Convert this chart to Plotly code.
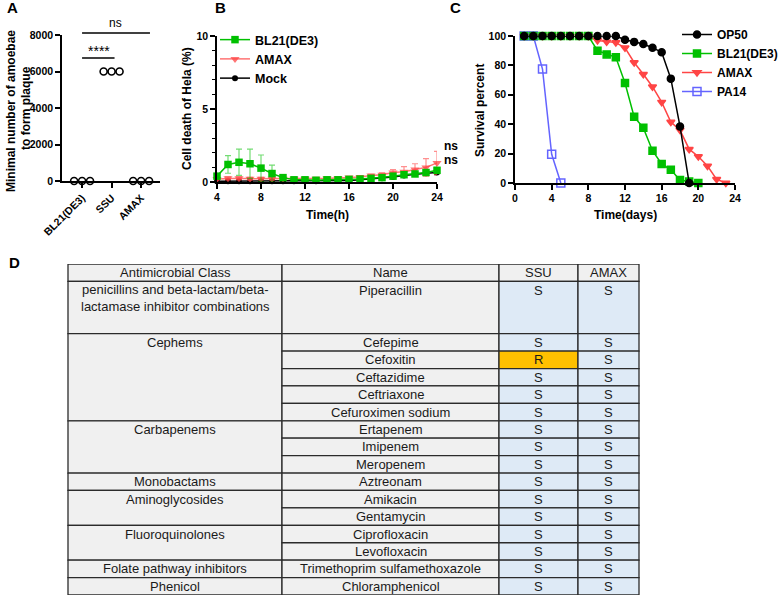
import plotly.graph_objects as go

W, H = 783, 596
FONT = "Liberation Sans, Arial, Helvetica, sans-serif"


def px_x(p):
    return p / W


def px_y(p):
    return 1 - p / H


# ---------------- data ----------------
# Panel A
a_groups = ["BL21(DE3)", "SSU", "AMAX"]
a_bl21 = [0, 0, 0]
a_ssu = [6000, 6000, 6000]
a_amax = [0, 0, 0]
a_yticks = [0, 2000, 4000, 6000, 8000]

# Panel B (hours 4..24)
b_hours = list(range(4, 25))
b_bl21 = [0.40, 1.20, 1.35, 1.25, 0.95, 0.58, 0.30, 0.15, 0.15, 0.12, 0.15,
          0.15, 0.18, 0.20, 0.25, 0.30, 0.40, 0.50, 0.55, 0.65, 0.80]
b_bl21_err = [0.10, 0.60, 0.90, 1.00, 0.90, 0.58, 0.15, 0.06, 0.06, 0.06, 0.06,
              0.06, 0.06, 0.08, 0.08, 0.08, 0.10, 0.12, 0.12, 0.15, 0.20]
b_amax = [0.20, 0.25, 0.25, 0.22, 0.22, 0.22, 0.22, 0.22, 0.22, 0.22, 0.25,
          0.28, 0.30, 0.35, 0.45, 0.50, 0.65, 0.70, 0.85, 1.00, 1.30]
b_amax_err = [0.05, 0.10, 0.10, 0.10, 0.10, 0.10, 0.05, 0.05, 0.05, 0.05, 0.05,
              0.05, 0.06, 0.08, 0.08, 0.12, 0.20, 0.35, 0.40, 0.60, 0.80]
b_mock = [0.05, 0.05, 0.05, 0.05, 0.05, 0.05, 0.05, 0.05, 0.05, 0.05, 0.06,
          0.08, 0.10, 0.15, 0.20, 0.25, 0.35, 0.45, 0.55, 0.60, 0.65]
b_mock_err = [0.03, 0.03, 0.03, 0.03, 0.03, 0.03, 0.03, 0.03, 0.03, 0.03, 0.03,
              0.03, 0.04, 0.05, 0.05, 0.06, 0.08, 0.10, 0.12, 0.15, 0.15]

# Panel C (days)
c_op50_days = list(range(1, 20))
c_op50 = [100] * 11 + [97.5, 96, 94.5, 92, 89, 71, 38.5, 0]
c_bl21_days = list(range(1, 21))
c_bl21 = [100] * 8 + [90, 87.5, 85.5, 68, 45, 37.5, 22, 13, 9, 2, 1, 0]
c_amax_days = list(range(1, 24))
c_amax = [100] * 8 + [97, 96, 95.5, 92, 82, 74, 65.5, 55, 41.5, 36, 23, 18, 11.5, 2.5, 0]
c_pa14_days = list(range(1, 6))
c_pa14 = [100, 100, 77.5, 19.5, 0]

# Panel D (table)
t_header = ["Antimicrobial Class", "Name", "SSU", "AMAX"]
t_classes = ["penicillins and beta-lactam/beta-<br>lactamase inhibitor combinations",
             "Cephems", "Carbapenems", "Monobactams", "Aminoglycosides",
             "Fluoroquinolones", "Folate pathway inhibitors", "Phenicol"]
t_class_counts = [1, 5, 3, 1, 2, 2, 1, 1]
t_drugs = ["Piperacillin", "Cefepime", "Cefoxitin", "Ceftazidime", "Ceftriaxone",
           "Cefuroximen sodium", "Ertapenem", "Imipenem", "Meropenem", "Aztreonam",
           "Amikacin", "Gentamycin", "Ciprofloxacin", "Levofloxacin",
           "Trimethoprim sulfamethoxazole", "Chloramphenicol"]
t_drug_rows = [3] + [1] * 15
t_ssu = ["S", "S", "R"] + ["S"] * 13
t_amax = ["S"] * 16

# ---------------- styles ----------------
GREEN = "#00c000"
RED = "#ff4545"
BLUE = "#6464ff"
BLACK = "#000000"
BOLD = dict(family=FONT, size=10.5, color="black", weight="bold")
TITLE = dict(family=FONT, size=12, color="black", weight="bold")

fig = go.Figure()

# ---------------- Panel A ----------------
offsets = [-0.27, 0.0, 0.27]
for gi, vals in enumerate([a_bl21, a_ssu, a_amax]):
    mean = sum(vals) / len(vals)
    fig.add_trace(go.Scatter(
        x=[gi - 0.33, gi + 0.33], y=[mean, mean], mode="lines",
        line=dict(color=BLACK, width=1.6), showlegend=False,
        cliponaxis=False, xaxis="x", yaxis="y", hoverinfo="skip"))
    fig.add_trace(go.Scatter(
        x=[gi + o for o in offsets], y=vals, mode="markers",
        marker=dict(symbol="circle", size=7, color="white",
                    line=dict(color=BLACK, width=1.6)),
        showlegend=False, cliponaxis=False, xaxis="x", yaxis="y"))

# ---------------- Panel B ----------------
b_series = [
    ("Mock", b_mock, b_mock_err, BLACK, "circle", 6, "rgba(0,0,0,0.8)", 3),
    ("AMAX", b_amax, b_amax_err, "rgba(255,70,70,0.75)", "triangle-down", 8,
     "rgba(255,70,70,0.6)", 2),
    ("BL21(DE3)", b_bl21, b_bl21_err, GREEN, "square", 7.5, "rgba(0,192,0,0.55)", 1),
]
for name, vals, err, col, sym, size, ecol, rank in b_series:
    fig.add_trace(go.Scatter(
        x=b_hours, y=vals, name=name, mode="lines+markers",
        line=dict(color=col, width=1.5),
        marker=dict(symbol=sym, size=size, color=col),
        error_y=dict(type="data", array=err, color=ecol, thickness=1.2, width=3),
        cliponaxis=False, legend="legend", legendrank=rank,
        xaxis="x2", yaxis="y2"))

# ---------------- Panel C ----------------
c_series = [
    ("PA14", c_pa14_days, c_pa14, BLUE, "square-open", 8, 4),
    ("AMAX", c_amax_days, c_amax, RED, "triangle-down", 7, 3),
    ("BL21(DE3)", c_bl21_days, c_bl21, GREEN, "square", 7, 2),
    ("OP50", c_op50_days, c_op50, BLACK, "circle", 7, 1),
]
for name, days, vals, col, sym, size, rank in c_series:
    fig.add_trace(go.Scatter(
        x=days, y=vals, name=name, mode="lines+markers",
        line=dict(color=col, width=1.5),
        marker=dict(symbol=sym, size=size, color=col,
                    line=dict(color=col, width=1.5)),
        cliponaxis=False, legend="legend2", legendrank=rank,
        xaxis="x3", yaxis="y3"))

# ---------------- Panel D (table) ----------------
fig.add_trace(go.Scatter(x=[None], y=[None], xaxis="x4", yaxis="y4",
                         showlegend=False, hoverinfo="skip"))
col_edges = [68, 282, 499, 578, 639]  # column boundaries (layout, px)
GRAY = "#f0f0f0"
LBLUE = "#deeaf6"
ORANGE = "#ffc000"
BORDER = "#2b2b2b"
shapes = []
annotations = []
TFONT = dict(family=FONT, size=13, color="#1a1a1a")


def cell(c, r0, r1, fill):
    shapes.append(dict(type="rect", xref="x4", yref="y4",
                       x0=col_edges[c], x1=col_edges[c + 1], y0=r0, y1=r1,
                       fillcolor=fill, line=dict(color=BORDER, width=1.3),
                       layer="below"))


def ctext(c, r, text, nlines=1):
    annotations.append(dict(xref="x4", yref="y4",
                            x=(col_edges[c] + col_edges[c + 1]) / 2,
                            y=r + 0.5 + (nlines - 1) * 0.47, text=text,
                            showarrow=False, xanchor="center", yanchor="middle",
                            font=TFONT))


for c, h in enumerate(t_header):
    cell(c, 0, 1, GRAY)
    ctext(c, 0, h)

row = 1
drug_idx = 0
for cname, cnt in zip(t_classes, t_class_counts):
    span = sum(t_drug_rows[drug_idx:drug_idx + cnt])
    cell(0, row, row + span, GRAY)
    ctext(0, row, cname, nlines=cname.count("<br>") + 1)
    r = row
    for k in range(cnt):
        d = drug_idx + k
        h = t_drug_rows[d]
        cell(1, r, r + h, GRAY)
        ctext(1, r, t_drugs[d])
        cell(2, r, r + h, ORANGE if t_ssu[d] == "R" else LBLUE)
        ctext(2, r, t_ssu[d])
        cell(3, r, r + h, ORANGE if t_amax[d] == "R" else LBLUE)
        ctext(3, r, t_amax[d])
        r += h
    row += span
    drug_idx += cnt
total_rows = row

# ---------------- annotations: panel labels, titles ----------------
PANEL = dict(family=FONT, size=15, color="black", weight="bold")
for lab, x, y in [("A", 12, 8), ("B", 220, 8), ("C", 455, 8), ("D", 15, 262)]:
    annotations.append(dict(xref="paper", yref="paper", x=px_x(x), y=px_y(y),
                            text=lab, showarrow=False, xanchor="center",
                            yanchor="middle", font=PANEL))

# axis titles
annotations += [
    dict(xref="paper", yref="paper", x=px_x(11), y=px_y(111),
         text="Minimal number of amoebae", textangle=-90,
         showarrow=False, font=TITLE, xanchor="center", yanchor="middle"),
    dict(xref="paper", yref="paper", x=px_x(26), y=px_y(108),
         text="to form plaque", textangle=-90,
         showarrow=False, font=TITLE, xanchor="center", yanchor="middle"),
    dict(xref="paper", yref="paper", x=px_x(187), y=px_y(109),
         text="Cell death of Hela (%)", textangle=-90,
         showarrow=False, font=TITLE, xanchor="center", yanchor="middle"),
    dict(xref="paper", yref="paper", x=px_x(327), y=px_y(215),
         text="Time(h)", showarrow=False, font=TITLE,
         xanchor="center", yanchor="middle"),
    dict(xref="paper", yref="paper", x=px_x(480), y=px_y(110),
         text="Survival percent", textangle=-90,
         showarrow=False, font=TITLE, xanchor="center", yanchor="middle"),
    dict(xref="paper", yref="paper", x=px_x(625), y=px_y(215),
         text="Time(days)", showarrow=False, font=TITLE,
         xanchor="center", yanchor="middle"),
]

# significance in A
A_TOP, A_BOT = 35, 181
shapes += [
    dict(type="line", xref="x", yref="paper", x0=0, x1=2.3,
         y0=px_y(33), y1=px_y(33), line=dict(color=BLACK, width=1.5)),
    dict(type="line", xref="x", yref="paper", x0=0, x1=1.1,
         y0=px_y(58), y1=px_y(58), line=dict(color=BLACK, width=1.5)),
]
annotations += [
    dict(xref="x", yref="paper", x=1.12, y=px_y(23), text="ns", showarrow=False,
         font=dict(family=FONT, size=12, color="black"), xanchor="center",
         yanchor="middle"),
    dict(xref="x", yref="paper", x=0.58, y=px_y(51), text="****",
         showarrow=False, font=dict(family=FONT, size=14, color="black"),
         xanchor="center", yanchor="middle"),
]
# ns in B (to the right of the last time point)
for py in [146, 160]:
    annotations.append(dict(xref="paper", yref="paper", x=px_x(442), y=px_y(py),
                            text="ns", showarrow=False, xanchor="left",
                            yanchor="middle",
                            font=dict(family=FONT, size=12, color="black",
                                      weight="bold")))

axis_common = dict(showline=True, linecolor=BLACK, linewidth=1.5, ticks="outside",
                   ticklen=5, tickwidth=1.5, tickcolor=BLACK, showgrid=False,
                   zeroline=False, tickfont=BOLD, fixedrange=True)

fig.update_layout(
    width=W, height=H, margin=dict(l=0, r=0, t=0, b=0, autoexpand=False),
    paper_bgcolor="white", plot_bgcolor="rgba(0,0,0,0)",
    font=dict(family=FONT, color="black"),
    xaxis=dict(domain=[px_x(62), px_x(160)], range=[-0.68, 2.64],
               tickvals=[0, 1, 2], ticktext=a_groups, tickangle=-45,
               anchor="y", **axis_common),
    yaxis=dict(domain=[px_y(A_BOT), px_y(A_TOP)], range=[0, 8000],
               tickvals=a_yticks, anchor="x", **axis_common),
    xaxis2=dict(domain=[px_x(217), px_x(437)], range=[4, 24],
                tickvals=[4, 8, 12, 16, 20, 24], anchor="y2", **axis_common),
    yaxis2=dict(domain=[px_y(182), px_y(36)], range=[0, 10],
                tickvals=[0, 5, 10], anchor="x2",
                minor=dict(dtick=1, ticks="outside", ticklen=3, tickwidth=1.2,
                           tickcolor=BLACK),
                **axis_common),
    xaxis3=dict(domain=[px_x(515), px_x(735)], range=[0, 24],
                tickvals=[0, 4, 8, 12, 16, 20, 24], anchor="y3", **axis_common),
    yaxis3=dict(domain=[px_y(183), px_y(36)], range=[0, 100],
                tickvals=[0, 20, 40, 60, 80, 100], anchor="x3", **axis_common),
    xaxis4=dict(domain=[0, 1], range=[0, W], visible=False, anchor="y4",
                fixedrange=True),
    yaxis4=dict(domain=[px_y(595), px_y(264)], range=[total_rows, 0],
                visible=False, anchor="x4", fixedrange=True),
    legend=dict(x=px_x(215), y=px_y(25), xanchor="left", yanchor="top",
                bgcolor="rgba(0,0,0,0)", font=dict(family=FONT, size=12.5,
                                                   color="black", weight="bold"),
                tracegroupgap=0),
    legend2=dict(x=px_x(677), y=px_y(20), xanchor="left", yanchor="top",
                 bgcolor="rgba(0,0,0,0)", font=dict(family=FONT, size=12,
                                                    color="black", weight="bold"),
                 tracegroupgap=0),
    shapes=shapes,
    annotations=annotations,
    showlegend=True,
)

fig.write_html("out.html")
